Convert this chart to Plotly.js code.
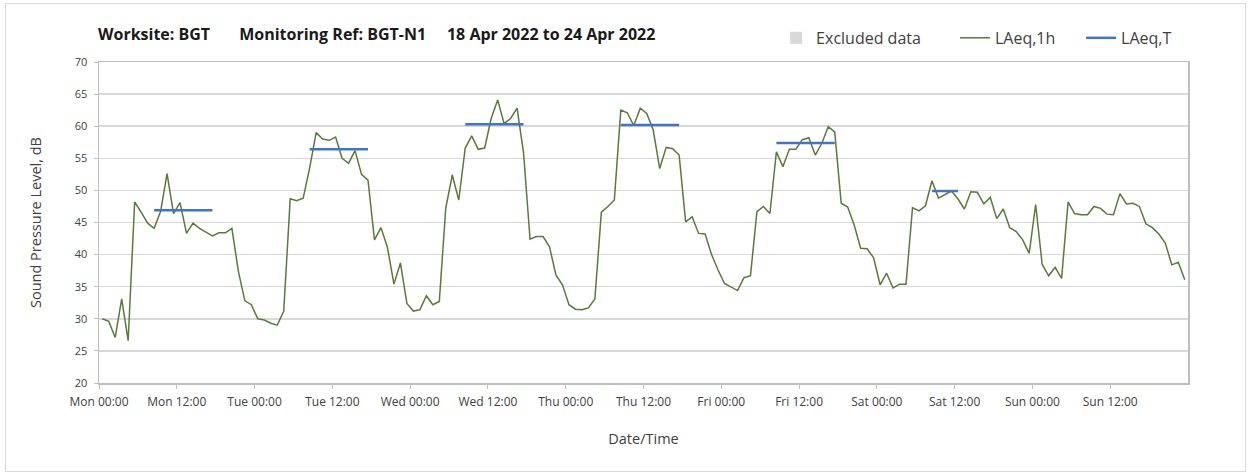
<!DOCTYPE html>
<html>
<head>
<meta charset="utf-8">
<script src="https://cdn.plot.ly/plotly-3.0.1.min.js"></script>
<style>
  html, body { margin: 0; padding: 0; background: #ffffff; }
  #wrap { position: relative; width: 1250px; height: 475px; }
  #chart { position: absolute; left: 0; top: 0; width: 1250px; height: 475px; }
  #frame { position: absolute; left: 5px; top: 3px; width: 1239px; height: 467px; border: 1px solid #d9d9d9; pointer-events: none; }
</style>
</head>
<body>
<div id="wrap"><div id="chart"></div><div id="frame"></div></div>
<script>
// Hour index of each hourly LAeq,1h value (hour starting Mon 00:00)
const hours = Array.from({length: 168}, (_, i) => i + 0.5);

// LAeq,1h values, dB (Mon 00:00 .. Sun 23:00)
const laeq1h = [
  // Mon
  30.0, 29.6, 27.1, 33.1, 26.6, 48.2, 46.6, 44.9, 44.1, 46.7, 52.6, 46.4,
  48.1, 43.3, 44.9, 44.1, 43.5, 42.9, 43.4, 43.4, 44.1, 37.4, 32.8, 32.2,
  // Tue
  30.0, 29.8, 29.3, 29.0, 31.2, 48.7, 48.4, 48.8, 53.5, 59.0, 58.0, 57.8,
  58.3, 55.0, 54.2, 56.2, 52.5, 51.6, 42.3, 44.2, 41.1, 35.4, 38.7, 32.4,
  // Wed
  31.2, 31.4, 33.6, 32.2, 32.7, 47.3, 52.4, 48.5, 56.6, 58.5, 56.4, 56.6,
  61.2, 64.1, 60.4, 61.2, 62.8, 55.8, 42.4, 42.8, 42.8, 41.2, 36.8, 35.3,
  // Thu
  32.2, 31.5, 31.4, 31.7, 33.1, 46.6, 47.5, 48.5, 62.5, 62.1, 60.1, 62.8,
  62.0, 59.4, 53.4, 56.7, 56.5, 55.5, 45.1, 45.9, 43.3, 43.2, 40.0, 37.6,
  // Fri
  35.5, 34.9, 34.4, 36.4, 36.7, 46.7, 47.5, 46.4, 56.0, 53.7, 56.4, 56.4,
  57.9, 58.2, 55.5, 57.3, 59.9, 59.1, 48.0, 47.4, 44.6, 41.0, 40.9, 39.5,
  // Sat
  35.3, 37.1, 34.8, 35.4, 35.4, 47.3, 46.8, 47.6, 51.5, 48.8, 49.4, 49.9,
  48.7, 47.1, 49.8, 49.7, 47.9, 48.9, 45.6, 47.1, 44.2, 43.6, 42.3, 40.2,
  // Sun
  47.8, 38.5, 36.7, 38.0, 36.3, 48.2, 46.4, 46.2, 46.2, 47.5, 47.2, 46.3,
  46.2, 49.5, 47.9, 48.0, 47.5, 44.8, 44.2, 43.2, 41.8, 38.4, 38.8, 36.1
];

// LAeq,T assessment periods (start / end hour) and levels, dB
const periodStart = [8.5, 32.5, 56.5, 80.5, 104.5, 128.5];
const periodEnd   = [17.5, 41.5, 65.5, 89.5, 113.5, 132.5];
const laeqT       = [46.9, 56.4, 60.3, 60.2, 57.4, 49.9];

// Excluded data ranges (none in this period)
const excludedStart = [];
const excludedEnd = [];

// Axis tick labels
const tickHours = [0, 12, 24, 36, 48, 60, 72, 84, 96, 108, 120, 132, 144, 156];
const tickLabels = ['Mon 00:00', 'Mon 12:00', 'Tue 00:00', 'Tue 12:00', 'Wed 00:00', 'Wed 12:00',
  'Thu 00:00', 'Thu 12:00', 'Fri 00:00', 'Fri 12:00', 'Sat 00:00', 'Sat 12:00', 'Sun 00:00', 'Sun 12:00'];
const dayHours = [24, 48, 72, 96, 120, 144];

const tX = [], tY = [];
for (let k = 0; k < laeqT.length; k++) {
  tX.push(periodStart[k], periodEnd[k], null);
  tY.push(laeqT[k], laeqT[k], null);
}

const FONT = '"Open Sans", Lato, sans-serif';
const NB = '\u00A0';
const titleText = 'Worksite: BGT' + NB.repeat(7) + 'Monitoring Ref: BGT-N1' + NB.repeat(5) + '18 Apr 2022 to 24 Apr 2022';

const traces = [
  {
    type: 'bar', name: 'Excluded data' + NB.repeat(7),
    x: excludedStart.length ? excludedStart : [null], y: excludedEnd.length ? excludedEnd : [null],
    marker: {color: '#d9d9d9'}, showlegend: true, hoverinfo: 'skip'
  },
  {
    type: 'scatter', mode: 'lines', name: 'LAeq,1h' + NB.repeat(5),
    x: hours, y: laeq1h,
    line: {color: '#5a7a3c', width: 1.5}
  },
  {
    type: 'scatter', mode: 'lines', name: 'LAeq,T',
    x: tX, y: tY, connectgaps: false,
    line: {color: '#4472c4', width: 2.5}
  }
];

const layout = {
  width: 1250, height: 475,
  margin: {l: 99, r: 62, t: 62, b: 92},
  paper_bgcolor: 'rgba(0,0,0,0)', plot_bgcolor: '#ffffff',
  font: {family: FONT, color: '#404040', size: 11},
  title: {
    text: '<b>' + titleText + '</b>',
    x: 98 / 1250, xanchor: 'left', xref: 'container',
    y: 1 - 34 / 475, yanchor: 'middle', yref: 'container',
    font: {family: FONT, size: 16, color: '#1a1a1a'}
  },
  showlegend: true,
  legend: {
    orientation: 'h', x: 0.99, xanchor: 'right', y: 1.075, yanchor: 'middle',
    font: {family: FONT, size: 16, color: '#404040'},
    bgcolor: 'rgba(0,0,0,0)', traceorder: 'normal'
  },
  xaxis: {
    range: [0, 168], tickvals: tickHours, ticktext: tickLabels,
    showgrid: false, zeroline: false,
    showline: true, linecolor: '#bfbfbf', linewidth: 1.5, mirror: true,
    ticks: 'outside', ticklen: 4, tickcolor: '#bfbfbf',
    ticklabelstandoff: 3,
    tickfont: {family: FONT, size: 12, color: '#404040'},
    title: {text: 'Date/Time', font: {family: FONT, size: 14.5, color: '#404040'}, standoff: 25}
  },
  xaxis2: {
    overlaying: 'x', anchor: 'y', range: [0, 168],
    tickvals: dayHours, showticklabels: false, ticks: '',
    showgrid: true, gridcolor: '#d9d9d9', gridwidth: 1.5, zeroline: false, showline: false
  },
  yaxis: {
    range: [20, 70], dtick: 5, tick0: 20,
    showgrid: true, gridcolor: '#d9d9d9', gridwidth: 1.5, zeroline: false,
    showline: true, linecolor: '#bfbfbf', linewidth: 1.5, mirror: true,
    ticks: 'outside', ticklen: 4, tickcolor: '#bfbfbf',
    ticklabelstandoff: 4,
    tickfont: {family: FONT, size: 11, color: '#404040'},
    title: {text: 'Sound Pressure Level, dB', font: {family: FONT, size: 14.5, color: '#404040'}, standoff: 29}
  },
  barmode: 'overlay'
};

Plotly.newPlot('chart', traces, layout, {displayModeBar: false, staticPlot: true});
</script>
</body>
</html>
